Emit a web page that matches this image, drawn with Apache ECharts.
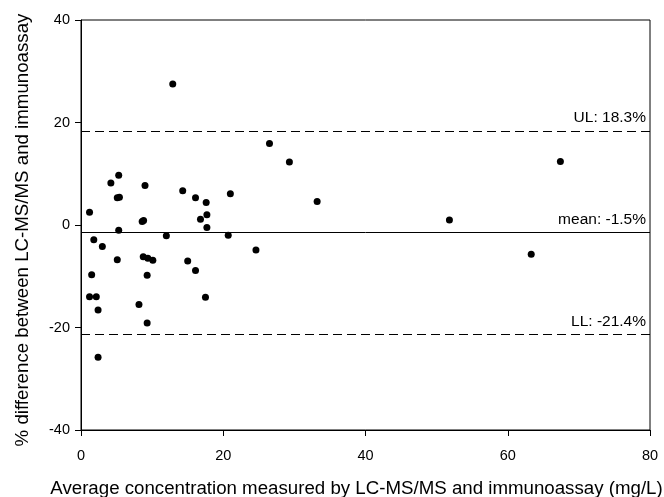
<!DOCTYPE html>
<html>
<head>
<meta charset="utf-8">
<script src="https://cdn.jsdelivr.net/npm/echarts@6/dist/echarts.min.js"></script>
<style>
html,body{margin:0;padding:0;background:#fff;}
#main{width:664px;height:497px;}
</style>
</head>
<body>
<div id="main"></div>
<script>
const xValues = [12.9, 26.5, 5.3, 4.2, 9.0, 14.3, 5.1, 5.4, 16.1, 17.6, 21.0, 1.2, 17.7, 16.8, 8.6, 8.8, 17.7, 5.3, 12.0, 20.7, 1.8, 3.0, 24.6, 5.1, 8.75, 9.4, 10.1, 15.0, 16.1, 1.5, 9.3, 1.2, 2.15, 17.5, 8.15, 2.4, 9.3, 2.4, 29.3, 33.2, 67.4, 51.8, 63.3];
const yValues = [27.5, 15.9, 9.7, 8.2, 7.7, 6.7, 5.3, 5.4, 5.3, 4.4, 6.1, 2.5, 2.0, 1.1, 0.7, 0.9, -0.5, -1.0, -2.1, -2.0, -2.9, -4.2, -4.9, -6.8, -6.2, -6.5, -6.9, -7.0, -8.9, -9.7, -9.8, -14.0, -14.0, -14.1, -15.5, -16.6, -19.1, -25.8, 12.3, 4.6, 12.4, 1.0, -5.7];
const refValues = [18.3, -1.5, -21.4];
const refLabels = ['UL: 18.3%', 'mean: -1.5%', 'LL: -21.4%'];
const refDashed = [true, false, true];
const xTitle = 'Average concentration measured by LC-MS/MS and immunoassay (mg/L)';
const yTitle = '% difference between LC-MS/MS and immunoassay';

const points = xValues.map((x, i) => [x, yValues[i]]);
const font = 'Liberation Sans, Arial, sans-serif';

const chart = echarts.init(document.getElementById('main'), null, {renderer: 'canvas'});
chart.setOption({
  animation: false,
  backgroundColor: '#fff',
  grid: {left: 81, right: 14, top: 20, bottom: 67, show: true, borderColor: '#000', borderWidth: 1, containLabel: false, outerBoundsMode: 'none'},
  xAxis: {
    type: 'value', min: 0, max: 80, interval: 20,
    name: xTitle, nameLocation: 'middle', nameGap: 49,
    nameTextStyle: {fontFamily: font, fontSize: 18.7, color: '#000', padding: [0, 18, 0, 0]},
    axisLine: {show: true, onZero: false, lineStyle: {color: '#000', width: 1}},
    axisTick: {show: true, length: 6, lineStyle: {color: '#000'}},
    axisLabel: {fontFamily: font, fontSize: 14.5, color: '#000', margin: 18},
    splitLine: {show: false}
  },
  yAxis: {
    type: 'value', min: -40, max: 40, interval: 20,
    name: yTitle, nameLocation: 'middle', nameGap: 49,
    nameTextStyle: {fontFamily: font, fontSize: 18.7, color: '#000', padding: [0, 10, 0, 0]},
    axisLine: {show: true, onZero: false, lineStyle: {color: '#000', width: 1}},
    axisTick: {show: true, length: 6, lineStyle: {color: '#000'}},
    axisLabel: {fontFamily: font, fontSize: 14.5, color: '#000', margin: 11, padding: [3, 0, 0, 0]},
    splitLine: {show: false}
  },
  series: [{
    type: 'scatter',
    data: points,
    symbol: 'circle',
    symbolSize: 7,
    itemStyle: {color: '#000', opacity: 1},
    markLine: {
      silent: true,
      symbol: ['none', 'none'],
      animation: false,
      data: refValues.map((v, i) => ({
        yAxis: v,
        lineStyle: {color: '#000', width: 1, type: refDashed[i] ? [9, 5] : 'solid'},
        label: {
          show: true, formatter: refLabels[i], position: 'insideEndTop',
          fontFamily: font, fontSize: 15.5, color: '#000', distance: [4, 5]
        }
      }))
    }
  }]
});
</script>
</body>
</html>
